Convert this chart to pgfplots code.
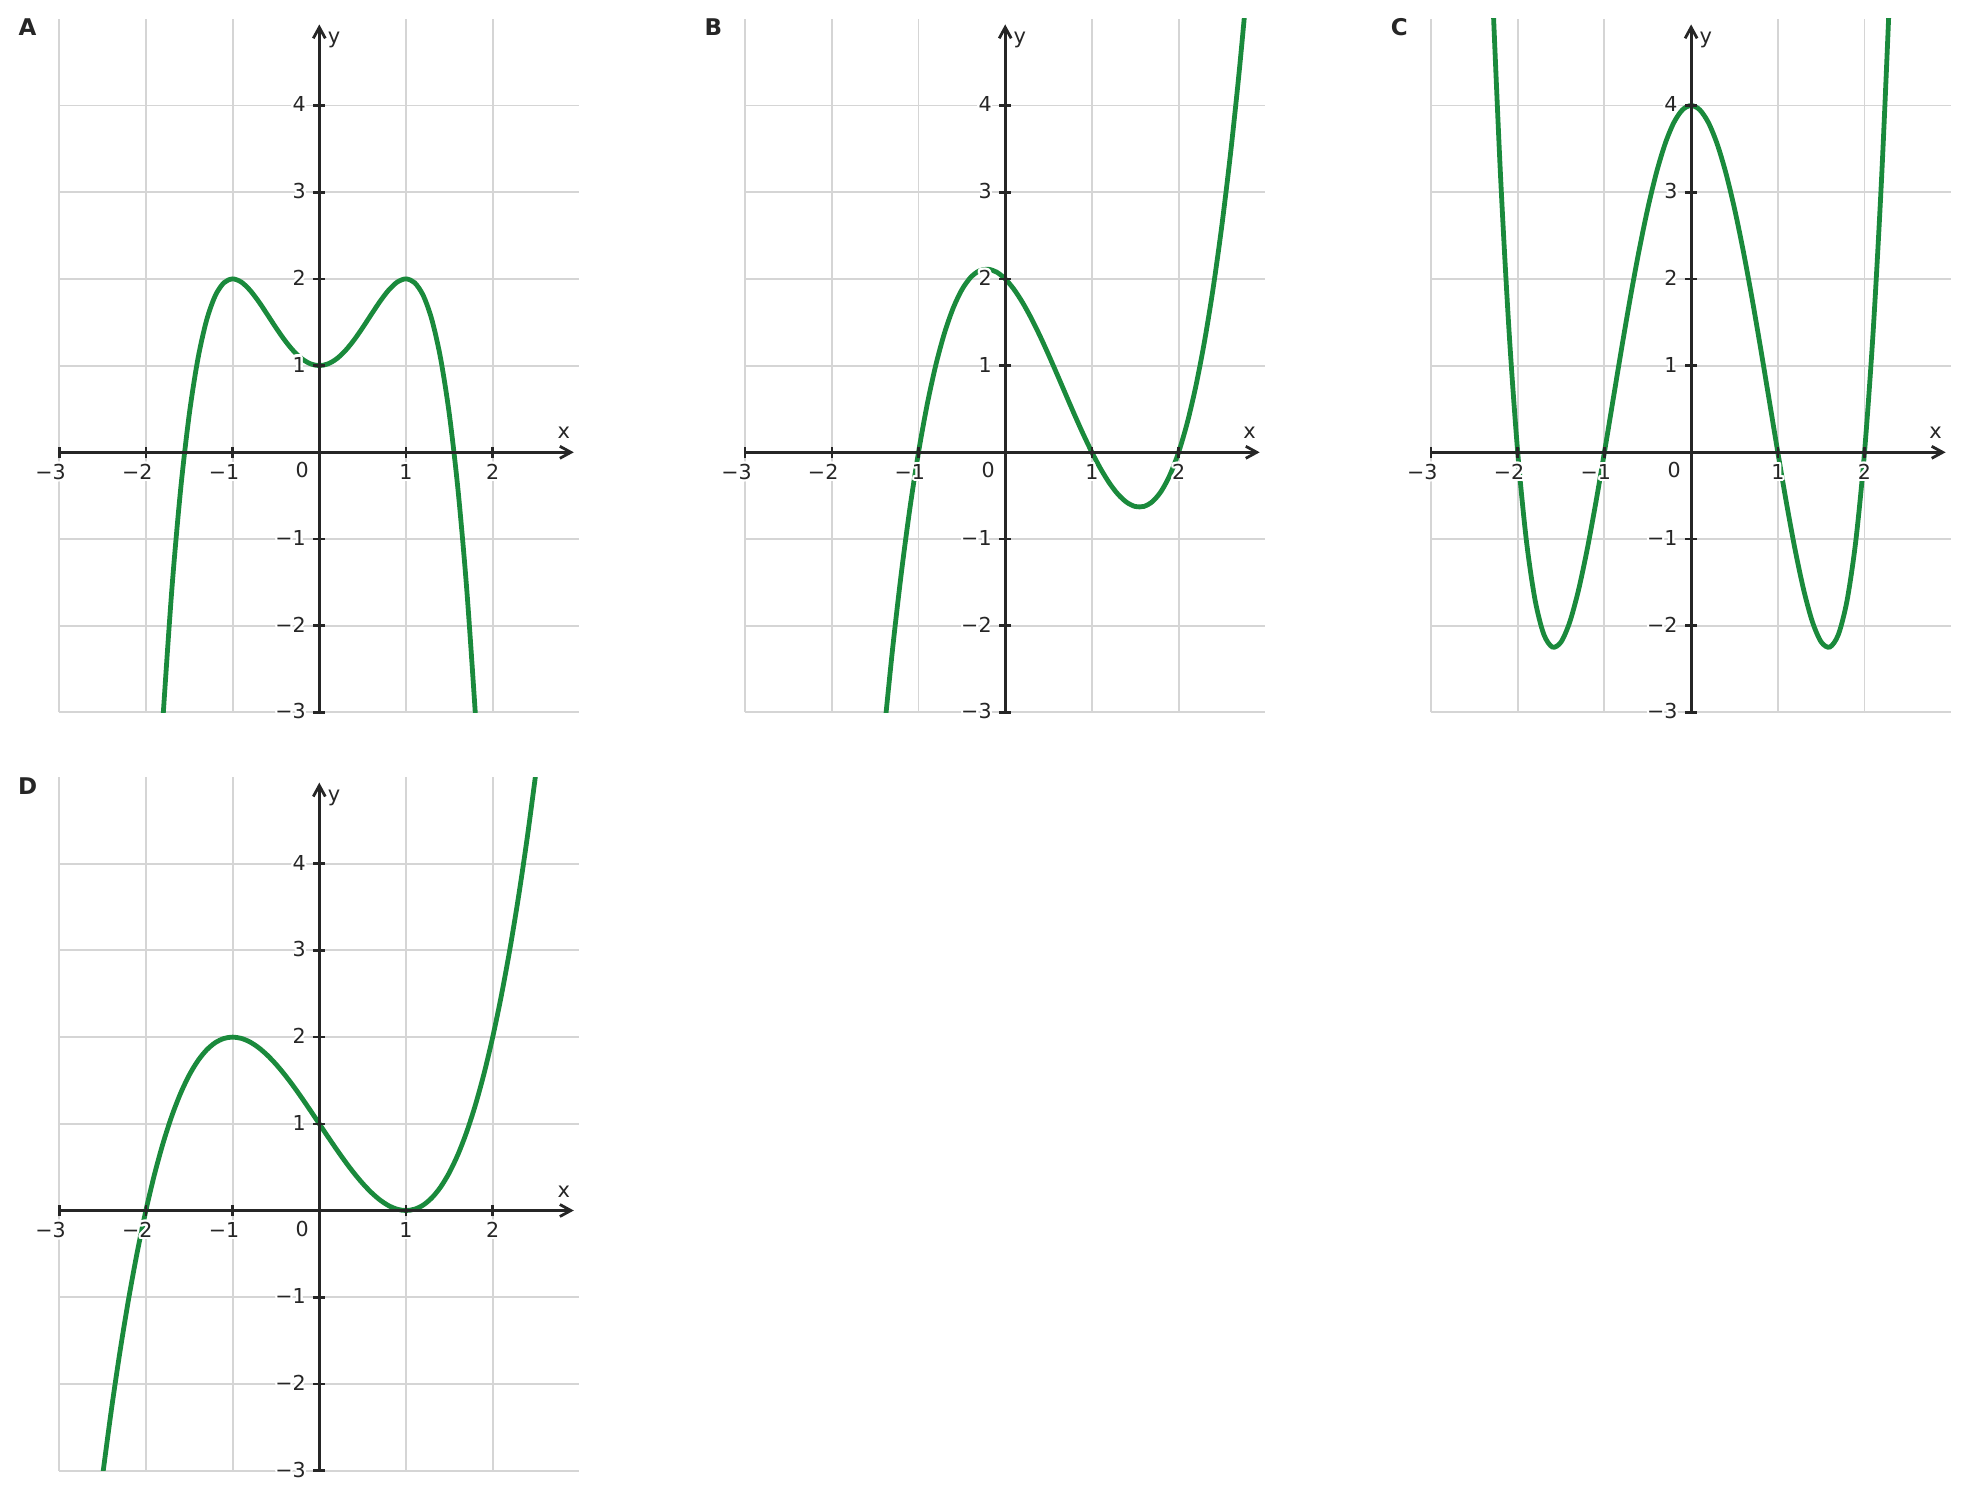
\documentclass[border=0pt]{standalone}
\usepackage{fontspec}
\setmainfont{DejaVu Sans}
\usepackage{pgfplots}
\pgfplotsset{compat=1.18}
\usetikzlibrary{arrows.meta}
\usepackage[copies]{contour}
\contourlength{1.1pt}
\definecolor{curvegreen}{HTML}{1A8A3C}
\definecolor{gridgray}{HTML}{D5D5D5}
\definecolor{axcol}{HTML}{262626}

\pgfplotsset{
  panelbase/.style={scale only axis, width=260.1pt, height=346.8pt,
    xmin=-3, xmax=3, ymin=-3, ymax=5, anchor=origin, axis lines=middle,
    xtick={-3,-2,-1,1,2}, ytick={-3,-2,-1,1,2,3,4}},
  under/.style={panelbase, grid=major, grid style={line width=0.95pt, draw=gridgray},
    xticklabels={}, yticklabels={}, major tick length=0pt, axis line style={draw=none}},
  over/.style={panelbase,
    axis line style={line width=1.4pt, draw=axcol, -{Straight Barb[length=5.5pt,width=6pt]}, shorten >=2.8pt},
    major tick length=5.8pt, tick align=center,
    major tick style={line width=1.3pt, draw=axcol},
    xticklabels={\contour{white}{\llap{−}3},\contour{white}{\llap{−}2},\contour{white}{\llap{−}1},\contour{white}{1},\contour{white}{2}},
    yticklabels={\contour{white}{−3},\contour{white}{−2},\contour{white}{−1},\contour{white}{1},\contour{white}{2},\contour{white}{3},\contour{white}{4}},
    tick label style={font=\fontsize{10.3}{12}\selectfont, text=axcol},
    xticklabel style={anchor=base, yshift=-10.6pt},
    yticklabel style={anchor=east, inner sep=0pt, xshift=-3.7pt}},
  curve/.style={curvegreen, line width=2.4pt, smooth, no markers},
}
\newcommand{\axdecor}{%
  \node[font=\fontsize{10.5}{12}\selectfont, text=axcol] at (axis cs:2.82,0.22) {x};
  \node[font=\fontsize{10.5}{12}\selectfont, text=axcol] at (axis cs:0.17,4.76) {y};
  \node[font=\fontsize{10.3}{12}\selectfont, text=axcol, xshift=-8.5pt, yshift=-9.6pt] at (axis cs:0,0) {\contour{white}{0}};
}

\begin{document}
\begin{tikzpicture}
\useasboundingbox (-159.65pt,-523.85pt) rectangle (824.85pt,226.15pt);

% ---------------- Panel A ----------------
\begin{axis}[under, at={(0pt,0pt)}]
\addplot[curve] coordinates {
(-1.85,-3.8685) (-1.8,-3.0176) (-1.7,-1.5721) (-1.6,-0.4336) (-1.5,0.4375) (-1.4,1.0784)
(-1.3,1.5239) (-1.2,1.8064) (-1.1,1.9559) (-1.0,2) (-0.9,1.9639) (-0.8,1.8704)
(-0.7,1.7399) (-0.6,1.5904) (-0.5,1.4375) (-0.4,1.2944) (-0.3,1.1719) (-0.2,1.0784)
(-0.1,1.0199) (0,1) (0.1,1.0199) (0.2,1.0784) (0.3,1.1719) (0.4,1.2944)
(0.5,1.4375) (0.6,1.5904) (0.7,1.7399) (0.8,1.8704) (0.9,1.9639) (1.0,2)
(1.1,1.9559) (1.2,1.8064) (1.3,1.5239) (1.4,1.0784) (1.5,0.4375) (1.6,-0.4336)
(1.7,-1.5721) (1.8,-3.0176) (1.85,-3.8685)};
\end{axis}
\begin{axis}[over, at={(0pt,0pt)}]
\axdecor
\end{axis}
\node[font=\bfseries\fontsize{11.5}{13}\selectfont, text=axcol] at (-145.85pt,212.4pt) {A};

% ---------------- Panel B ----------------
\begin{axis}[under, at={(342.95pt,0pt)}]
\addplot[curve] coordinates {
(-1.4,-3.264) (-1.3,-2.277) (-1.2,-1.408) (-1.1,-0.651) (-1.0,0) (-0.9,0.551)
(-0.8,1.008) (-0.7,1.377) (-0.6,1.664) (-0.5,1.875) (-0.4,2.016) (-0.3,2.093)
(-0.2,2.112) (-0.1,2.079) (0,2) (0.1,1.881) (0.2,1.728) (0.3,1.547)
(0.4,1.344) (0.5,1.125) (0.6,0.896) (0.7,0.663) (0.8,0.432) (0.9,0.209)
(1.0,0) (1.1,-0.189) (1.2,-0.352) (1.3,-0.483) (1.4,-0.576) (1.5,-0.625)
(1.6,-0.624) (1.7,-0.567) (1.8,-0.448) (1.9,-0.261) (2.0,0) (2.1,0.341)
(2.2,0.768) (2.3,1.287) (2.4,1.904) (2.5,2.625) (2.6,3.456) (2.7,4.403) (2.8,5.472)};
\end{axis}
\begin{axis}[over, at={(342.95pt,0pt)}]
\axdecor
\end{axis}
\node[font=\bfseries\fontsize{11.5}{13}\selectfont, text=axcol] at (197.1pt,212.4pt) {B};

% ---------------- Panel C ----------------
\begin{axis}[under, at={(685.9pt,0pt)}]
\addplot[curve] coordinates {
(-2.35,6.8855) (-2.3,5.5341) (-2.2,3.2256) (-2.1,1.3981) (-2.0,0) (-1.9,-1.0179)
(-1.8,-1.7024) (-1.7,-2.0979) (-1.6,-2.2464) (-1.5,-2.1875) (-1.4,-1.9584) (-1.3,-1.5939)
(-1.2,-1.1264) (-1.1,-0.5859) (-1.0,0) (-0.9,0.6061) (-0.8,1.2096) (-0.7,1.7901)
(-0.6,2.3296) (-0.5,2.8125) (-0.4,3.2256) (-0.3,3.5581) (-0.2,3.8016) (-0.1,3.9501)
(0,4) (0.1,3.9501) (0.2,3.8016) (0.3,3.5581) (0.4,3.2256) (0.5,2.8125)
(0.6,2.3296) (0.7,1.7901) (0.8,1.2096) (0.9,0.6061) (1.0,0) (1.1,-0.5859)
(1.2,-1.1264) (1.3,-1.5939) (1.4,-1.9584) (1.5,-2.1875) (1.6,-2.2464) (1.7,-2.0979)
(1.8,-1.7024) (1.9,-1.0179) (2.0,0) (2.1,1.3981) (2.2,3.2256) (2.3,5.5341) (2.35,6.8855)};
\end{axis}
\begin{axis}[over, at={(685.9pt,0pt)}]
\axdecor
\end{axis}
\node[font=\bfseries\fontsize{11.5}{13}\selectfont, text=axcol] at (540.05pt,212.4pt) {C};

% ---------------- Panel D ----------------
\begin{axis}[under, at={(0pt,-379.1pt)}]
\addplot[curve] coordinates {
(-2.5,-3.0625) (-2.4,-2.312) (-2.3,-1.6335) (-2.2,-1.024) (-2.1,-0.4805) (-2.0,0)
(-1.9,0.4205) (-1.8,0.784) (-1.7,1.0935) (-1.6,1.352) (-1.5,1.5625) (-1.4,1.728)
(-1.3,1.8515) (-1.2,1.936) (-1.1,1.9845) (-1.0,2) (-0.9,1.9855) (-0.8,1.944)
(-0.7,1.8785) (-0.6,1.792) (-0.5,1.6875) (-0.4,1.568) (-0.3,1.4365) (-0.2,1.296)
(-0.1,1.1495) (0,1) (0.1,0.8505) (0.2,0.704) (0.3,0.5635) (0.4,0.432)
(0.5,0.3125) (0.6,0.208) (0.7,0.1215) (0.8,0.056) (0.9,0.0145) (1.0,0)
(1.1,0.0155) (1.2,0.064) (1.3,0.1485) (1.4,0.272) (1.5,0.4375) (1.6,0.648)
(1.7,0.9065) (1.8,1.216) (1.9,1.5795) (2.0,2) (2.1,2.4805) (2.2,3.024)
(2.3,3.6335) (2.4,4.312) (2.5,5.0625)};
\end{axis}
\begin{axis}[over, at={(0pt,-379.1pt)}]
\axdecor
\end{axis}
\node[font=\bfseries\fontsize{11.5}{13}\selectfont, text=axcol] at (-145.85pt,-166.7pt) {D};

\end{tikzpicture}
\end{document}
